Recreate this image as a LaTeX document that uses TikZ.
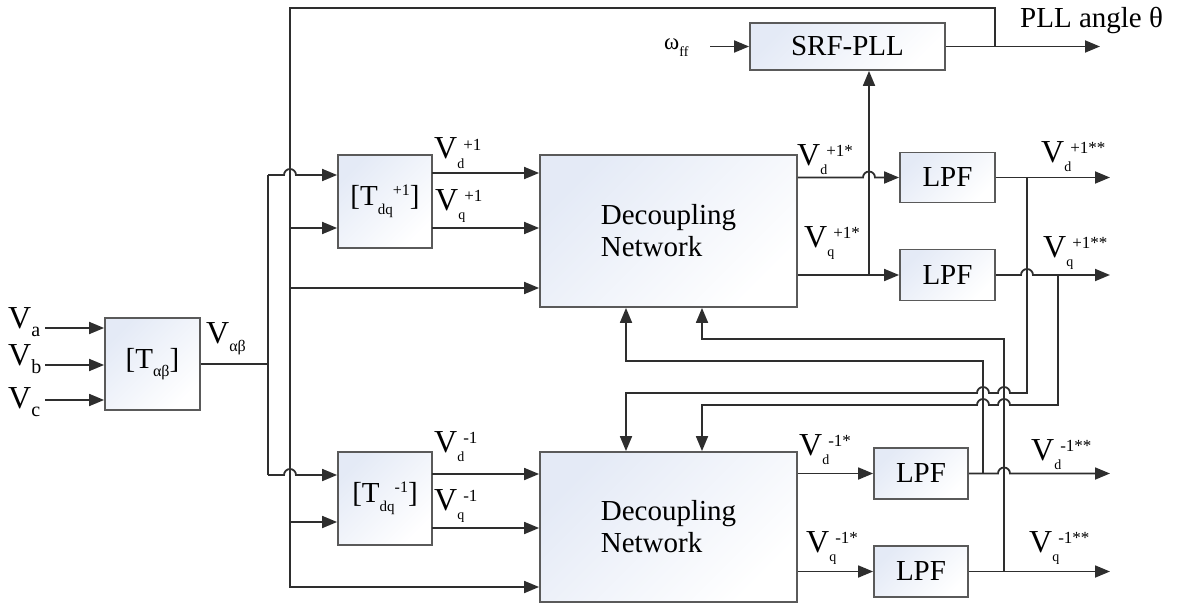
\documentclass[tikz,border=0pt]{standalone}
\usepackage{fontspec}
\setmainfont{Liberation Serif}
\usetikzlibrary{arrows.meta,calc}
\definecolor{linec}{HTML}{2E2E2E}
\definecolor{bordc}{HTML}{5A5A5A}
\definecolor{boxc}{HTML}{E4EAF6}
\newcommand\hopR[2]{-- ({#1-6},#2) arc[start angle=180,end angle=360,radius=6]}
\newcommand\hopL[2]{-- ({#1+6},#2) arc[start angle=360,end angle=180,radius=6]}
\newcommand\VL[2]{V\raisebox{-0.3em}{\fontsize{14}{14}\selectfont #1}\kern-1pt\raisebox{0.28em}{\fontsize{17}{17}\selectfont #2}}
\newcommand\VS[1]{V\raisebox{-0.28em}{\fontsize{20}{20}\selectfont #1}}
\begin{document}
\begin{tikzpicture}[x=1pt,y=-1pt,
  ln/.style={draw=linec,line width=1.8pt},
  arr/.style={ln,-{Triangle[length=15pt,width=12pt]}},
  blk/.style={draw=bordc,line width=1.8pt,top color=boxc,bottom color=white,shading angle=45,
     inner sep=0pt,font=\fontsize{29}{32}\selectfont},
  lab/.style={anchor=base west,inner sep=0pt,font=\fontsize{32}{34}\selectfont},
  txt/.style={anchor=base west,inner sep=0pt,font=\fontsize{29}{32}\selectfont}]
\useasboundingbox (0,0) rectangle (1186,607);

% blocks
\node[blk,minimum width=95pt,minimum height=92pt] (tab) at (152.5,364)
  {[T\raisebox{-0.3em}{\fontsize{16}{16}\selectfont αβ}]};
\node[blk,minimum width=94pt,minimum height=93pt] (tp) at (385,201.5)
  {[T\raisebox{-0.3em}{\fontsize{15}{15}\selectfont dq}\raisebox{0.35em}{\fontsize{16}{16}\selectfont +1}]};
\node[blk,minimum width=94pt,minimum height=93pt] (tm) at (385,498.5)
  {[T\raisebox{-0.3em}{\fontsize{15}{15}\selectfont dq}\raisebox{0.35em}{\fontsize{16}{16}\selectfont -1}]};
\node[blk,minimum width=257pt,minimum height=152pt,align=left] (dp) at (668.5,231) {Decoupling\\Network};
\node[blk,minimum width=257pt,minimum height=150pt,align=left] (dm) at (668.5,527) {Decoupling\\Network};
\node[blk,minimum width=195pt,minimum height=47pt] (pll) at (847.5,46.5) {SRF-PLL};
\node[blk,minimum width=95pt,minimum height=50pt] (l1) at (947.5,177.5) {LPF};
\node[blk,minimum width=95pt,minimum height=51pt] (l2) at (947.5,275) {LPF};
\node[blk,minimum width=94pt,minimum height=51pt] (l3) at (921,473.5) {LPF};
\node[blk,minimum width=94pt,minimum height=51pt] (l4) at (921,571.5) {LPF};

% coordinates
\coordinate (ina) at (45,328);
\coordinate (inb) at (45,365);
\coordinate (inc) at (45,400);
\coordinate (busM) at (268,364);
\coordinate (busT) at (268,175);
\coordinate (busB) at (268,475);
\coordinate (thJ) at (995,46.5);
\coordinate (thT) at (290,8);
\coordinate (th1) at (290,228);
\coordinate (th2) at (290,288);
\coordinate (th3) at (290,522);
\coordinate (th4) at (290,587);
\coordinate (a1) at (432,173);
\coordinate (a2) at (432,228);
\coordinate (a3) at (432,474);
\coordinate (a4) at (432,528);
\coordinate (wff) at (710,46.5);
\coordinate (po) at (1100,46.5);
\coordinate (pj) at (869,275);
\coordinate (o1) at (1110,177.5);
\coordinate (o2) at (1110,275);
\coordinate (o3) at (1110,473.5);
\coordinate (o4) at (1110,571.5);
\coordinate (j1) at (1027,177.5);
\coordinate (j2) at (1058,275);
\coordinate (j3) at (983,473.5);
\coordinate (j4) at (1004,571.5);
\coordinate (f1) at (626,393);
\coordinate (f2) at (702,405);
\coordinate (f3) at (626,361);
\coordinate (f4) at (702,339);

% inputs
\draw[arr] (ina) -- (ina -| tab.west);
\draw[arr] (inb) -- (inb -| tab.west);
\draw[arr] (inc) -- (inc -| tab.west);
\draw[ln] (tab.east) -- (busM);
\draw[ln] (busT) -- (busB);
\draw[arr] (busT) \hopR{290}{175} -- (busT -| tp.west);
\draw[arr] (busB) \hopR{290}{475} -- (busB -| tm.west);

% theta bus
\draw[arr] (thJ) |- (thT) -- (th4) -- (th4 -| dm.west);
\draw[arr] (th1) -- (th1 -| tp.west);
\draw[arr] (th2) -- (th2 -| dp.west);
\draw[arr] (th3) -- (th3 -| tm.west);

% dq outputs
\draw[arr] (a1) -- (a1 -| dp.west);
\draw[arr] (a2) -- (a2 -| dp.west);
\draw[arr] (a3) -- (a3 -| dm.west);
\draw[arr] (a4) -- (a4 -| dm.west);

% PLL
\draw[arr] (wff) -- (pll.west);
\draw[arr] (pll.east) -- (po);
\draw[arr] (pj) -- (pj |- pll.south);

% decoupling outputs
\draw[arr] (dp.east |- l1) \hopR{869}{177.5} -- (l1.west);
\draw[arr] (dp.east |- l2) -- (l2.west);
\draw[arr] (dm.east |- l3) -- (l3.west);
\draw[arr] (dm.east |- l4) -- (l4.west);

% LPF outputs
\draw[arr] (l1.east) -- (o1);
\draw[arr] (l2.east) \hopR{1027}{275} -- (o2);
\draw[arr] (l3.east) \hopR{1004}{473.5} -- (o3);
\draw[arr] (l4.east) -- (o4);

% feedbacks
\draw[arr] (j1) -- (1027,393) \hopL{1004}{393} \hopL{983}{393} -- (f1) -- (f1 |- dm.north);
\draw[arr] (j2) -- (1058,405) \hopL{1004}{405} \hopL{983}{405} -- (f2) -- (f2 |- dm.north);
\draw[arr] (j3) -- (983,361) -- (f3) -- (f3 |- dp.south);
\draw[arr] (j4) -- (1004,339) -- (f4) -- (f4 |- dp.south);

% labels
\node[lab] (la) at (8,328) {\VS{a}};
\node[lab] (lb) at (8,365) {\VS{b}};
\node[lab] (lc) at (8,408) {\VS{c}};
\node[lab] (lab) at (206,343) {V\raisebox{-0.28em}{\fontsize{16}{16}\selectfont αβ}};
\node[lab] at (434,159) {\VL{d}{+1}};
\node[lab] at (435,210) {\VL{q}{+1}};
\node[lab] at (434,452) {\VL{d}{-1}};
\node[lab] at (434,510) {\VL{q}{-1}};
\node[lab] at (797,165) {\VL{d}{+1*}};
\node[lab] at (804,247) {\VL{q}{+1*}};
\node[lab] at (1041,162) {\VL{d}{+1**}};
\node[lab] at (1043,257) {\VL{q}{+1**}};
\node[lab] at (799,455) {\VL{d}{-1*}};
\node[lab] at (806,552) {\VL{q}{-1*}};
\node[lab] at (1031,460) {\VL{d}{-1**}};
\node[lab] at (1029,552) {\VL{q}{-1**}};
\node[anchor=base west,inner sep=0pt,font=\fontsize{23}{24}\selectfont] at (664,50)
  {ω\raisebox{-0.3em}{\fontsize{14}{14}\selectfont ff}};
\node[txt] at (1020,28) {PLL angle θ};
\end{tikzpicture}
\end{document}
